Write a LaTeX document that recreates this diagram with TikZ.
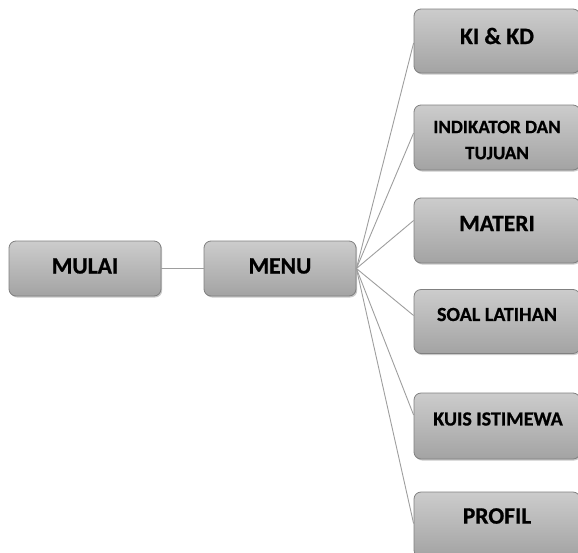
\documentclass[tikz,border=0pt]{standalone}
\usepackage{fontspec}
\setmainfont{Carlito}[BoldFeatures={FakeBold=0.8}]
\usetikzlibrary{shadows}
\begin{document}
\begin{tikzpicture}[x=1pt,y=-1pt,
  box/.style={draw=black!50, line width=0.8pt, rounded corners=7pt,
    top color=black!20, bottom color=black!36,
    drop shadow={shadow xshift=1.2pt, shadow yshift=-1.5pt, opacity=0.35, fill=black!60},
    inner sep=0pt, font=\bfseries, text=black},
  big/.style={font=\bfseries\fontsize{23.5}{26}\selectfont},
  small/.style={font=\bfseries\fontsize{19}{26}\selectfont, align=center},
  mid/.style={font=\bfseries\fontsize{20}{26}\selectfont},
  conn/.style={draw=black!38, line width=0.9pt}]
\useasboundingbox (0,0) rectangle (578,552);
% left boxes
\node[box, minimum width=152pt, minimum height=55pt] (mulai) at (85,268.5) {};
\node[big] (tmulai) at (85,266) {MULAI};
\node[box, minimum width=152pt, minimum height=55pt] (menu) at (280,268.5) {};
\node[big] (tmenu) at (280,266) {MENU};
% right boxes
\node[box, minimum width=166pt, minimum height=64pt] (ki) at (497,41) {};
\node[big] (tki) at (497,36) {KI \& KD};
\node[box, minimum width=166pt, minimum height=65pt] (ind) at (497,137.5) {};
\node[small] (tind) at (497,140) {INDIKATOR DAN\\TUJUAN};
\node[box, minimum width=166pt, minimum height=65pt] (mat) at (497,230.5) {};
\node[big] (tmat) at (497,223.5) {MATERI};
\node[box, minimum width=166pt, minimum height=64pt] (soal) at (497,321.5) {};
\node[mid] (tsoal) at (497,314.5) {SOAL LATIHAN};
\node[box, minimum width=166pt, minimum height=66pt] (kuis) at (497,426) {};
\node[mid] (tkuis) at (498,419) {KUIS ISTIMEWA};
\node[box, minimum width=166pt, minimum height=65pt] (prof) at (497,524.5) {};
\node[big] (tprof) at (497,516) {PROFIL};
% connectors
\draw[conn] (mulai.east) -- (menu.west);
\draw[conn] (menu.east) -- ([yshift=-2pt]ki.west);
\draw[conn] (menu.east) -- ([yshift=4.5pt]ind.west);
\draw[conn] (menu.east) -- ([yshift=10pt]mat.west);
\draw[conn] (menu.east) -- ([yshift=6pt]soal.west);
\draw[conn] (menu.east) -- ([yshift=11pt]kuis.west);
\draw[conn] (menu.east) -- ([yshift=1pt]prof.west);
\end{tikzpicture}
\end{document}
